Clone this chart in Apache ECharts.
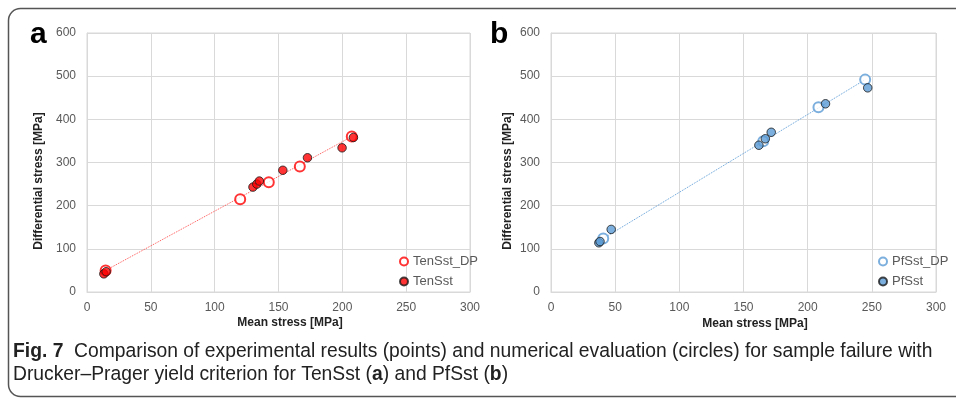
<!DOCTYPE html>
<html lang="en">
<head>
    <meta charset="UTF-8">
    <title>Fig. 7</title>
    <script src="https://cdn.jsdelivr.net/npm/echarts@6/dist/echarts.min.js"></script>
    <style>body{margin:0;background:#fff}</style>
</head>
<body>
    <div id="main" style="width: 956px;height:400px;"></div>
    <script type="text/javascript">
        // panel a: TenSst  [mean stress, differential stress]
        var tenDP = [[14.6, 50], [120, 215], [142.4, 254], [166.7, 291], [207.4, 360]];
        var tenExp = [[13.2, 42], [15, 47], [130, 243], [133, 250], [135, 257], [153.4, 282], [172.7, 311], [199.8, 334], [208.7, 358]];
        // panel b: PfSst
        var pfDP = [[40.7, 124], [165.4, 349], [208.4, 428], [244.8, 492]];
        var pfExp = [[37.3, 114], [38.2, 117], [46.9, 145], [162, 340], [167, 355], [171.6, 370], [213.9, 436], [246.8, 473]];

        var xTicks = [0, 50, 100, 150, 200, 250, 300];
        var yTicks = [0, 100, 200, 300, 400, 500, 600];

        var txt = '#595959';
        var font = 'Liberation Sans';
        var capFont = '"Liberation Sans", sans-serif';
        var myChart = echarts.init(document.getElementById('main'));

        function xAx(i) {
            return {
                gridIndex: i, type: 'value', min: xTicks[0], max: xTicks[xTicks.length - 1], interval: 50,
                axisLine: {lineStyle: {color: '#d9d9d9'}}, axisTick: {show: false},
                axisLabel: {color: txt, fontSize: 12, fontFamily: font, margin: 10},
                splitLine: {show: true, lineStyle: {color: '#d9d9d9'}}
            };
        }
        function yAx(i) {
            return {
                gridIndex: i, type: 'value', min: yTicks[0], max: yTicks[yTicks.length - 1], interval: 100,
                axisLine: {show: true, lineStyle: {color: '#d9d9d9'}}, axisTick: {show: false},
                axisLabel: {color: txt, fontSize: 12, fontFamily: font, margin: 11},
                splitLine: {show: true, lineStyle: {color: '#d9d9d9'}}
            };
        }
        function sortX(d) { return d.slice().sort(function (a, b) { return a[0] - b[0]; }); }
        function trend(d, i, c) {
            var s = sortX(d);
            return {type: 'line', xAxisIndex: i, yAxisIndex: i, data: [s[0], s[s.length - 1]], symbol: 'none',
                lineStyle: {color: c, width: 1, type: 'dotted'}, silent: true, z: 1};
        }
        function dp(name, d, i, c) {
            return {name: name, type: 'scatter', xAxisIndex: i, yAxisIndex: i, data: d, symbolSize: 10,
                itemStyle: {color: '#fff', borderColor: c, borderWidth: 2}, z: 2};
        }
        function ex(name, d, i, c) {
            return {name: name, type: 'scatter', xAxisIndex: i, yAxisIndex: i, data: d, symbolSize: 8.5,
                itemStyle: {color: c, borderColor: '#1a1a1a', borderWidth: 1}, z: 3};
        }
        function leg(l, names) {
            return {left: l, top: 255, orient: 'vertical', data: names, itemWidth: 8, itemHeight: 8, itemGap: 7,
                padding: 0, textStyle: {color: txt, fontSize: 13, fontFamily: font}};
        }
        function title(x, y, s, rot) {
            return {type: 'text', x: x, y: y, rotation: rot ? Math.PI / 2 : 0, style: {text: s,
                font: 'bold 12px Liberation Sans', fill: '#222', align: 'center', verticalAlign: 'middle'}};
        }

        option = {
            animation: false,
            grid: [
                {left: 87, top: 33, width: 383, height: 259, show: true, borderColor: '#d9d9d9'},
                {left: 551, top: 33, width: 385, height: 259, show: true, borderColor: '#d9d9d9'}
            ],
            xAxis: [xAx(0), xAx(1)],
            yAxis: [yAx(0), yAx(1)],
            legend: [leg(399, ['TenSst_DP', 'TenSst']), leg(878, ['PfSst_DP', 'PfSst'])],
            series: [
                trend(tenDP, 0, '#ff5050'),
                dp('TenSst_DP', tenDP, 0, '#ff0000'),
                ex('TenSst', tenExp, 0, '#ff0000'),
                trend(pfDP, 1, '#5b9bd5'),
                dp('PfSst_DP', pfDP, 1, '#5b9bd5'),
                ex('PfSst', pfExp, 1, '#5b9bd5')
            ],
            graphic: [
                {type: 'rect', shape: {x: 8.5, y: 8.5, width: 970, height: 388, r: 12},
                    style: {fill: 'none', stroke: '#555', lineWidth: 1.5}},
                {type: 'text', left: 30, top: 20, style: {text: 'a', font: 'bold 30px Liberation Sans', fill: '#000'}},
                {type: 'text', left: 490, top: 20, style: {text: 'b', font: 'bold 30px Liberation Sans', fill: '#000'}},
                title(290, 323, 'Mean stress [MPa]'),
                title(755, 324, 'Mean stress [MPa]'),
                title(39, 181, 'Differential stress [MPa]', true),
                title(508, 181, 'Differential stress [MPa]', true),
                {type: 'text', left: 13, top: 342, style: {
                    text: '{b|Fig. 7}  Comparison of experimental results (points) and numerical evaluation (circles) for sample failure with',
                    font: '19.3px ' + capFont, fill: '#222',
                    rich: {b: {fontWeight: 'bold', fontSize: 19.3, fontFamily: capFont}}}},
                {type: 'text', left: 13, top: 365, style: {
                    text: 'Drucker–Prager yield criterion for TenSst ({b|a}) and PfSst ({b|b})',
                    font: '19.3px ' + capFont, fill: '#222',
                    rich: {b: {fontWeight: 'bold', fontSize: 19.3, fontFamily: capFont}}}}
            ]
        };

        myChart.setOption(option);
    </script>
</body>
</html>
